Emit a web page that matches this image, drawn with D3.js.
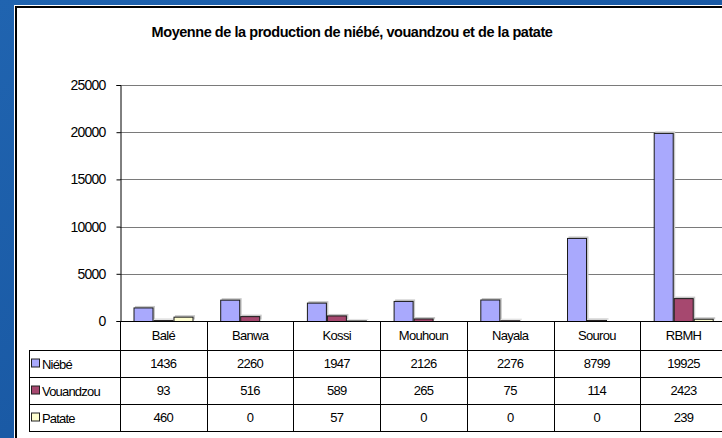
<!DOCTYPE html>
<html>
<head>
<meta charset="utf-8">
<script src="https://cdn.jsdelivr.net/npm/d3@7"></script>
<style>
	body { margin: 0; background: #1b5aa5; }
	svg { display: block; }
	text { font-family: 'Liberation Sans', Arial, sans-serif; fill: #000; }
</style>
</head>
<body>
<script>
// data
const categories = ['Balé', 'Banwa', 'Kossi', 'Mouhoun', 'Nayala', 'Sourou', 'RBMH']
const series = ['Niébé', 'Vouandzou', 'Patate']
const niebe = [1436, 2260, 1947, 2126, 2276, 8799, 19925]
const vouandzou = [93, 516, 589, 265, 75, 114, 2423]
const patate = [460, 0, 57, 0, 0, 0, 239]
const yTicks = [0, 5000, 10000, 15000, 20000, 25000]
const title = 'Moyenne de la production de niébé, vouandzou et de la patate'

const colors = { 'Niébé': '#a9a9fd', 'Vouandzou': '#a6486f', 'Patate': '#fdfdcf' }
const values = { 'Niébé': niebe, 'Vouandzou': vouandzou, 'Patate': patate }

const W = 722, H = 438
const colW = 86.7
const plotLeft = 120, plotTop = 85, zero = 321
const rows = [350, 377, 404, 431]
const tableLeft = 29

const root = d3.select('body').append('svg')
	.attr('width', W).attr('height', H)

// blue backdrop
const defs = root.append('defs')
const grad = defs.append('linearGradient').attr('id', 'bg').attr('x1', 0).attr('y1', 0).attr('x2', 1).attr('y2', 1)
grad.append('stop').attr('offset', 0).attr('stop-color', '#2064b0')
grad.append('stop').attr('offset', 1).attr('stop-color', '#14509a')
root.append('rect').attr('width', W).attr('height', H).attr('fill', 'url(#bg)')

// white panel with black frame
root.append('rect').attr('x', 14).attr('y', 5).attr('width', W).attr('height', H).attr('fill', '#fff')
root.append('path').attr('d', `M16,${H}V7H${W}`).attr('fill', 'none').attr('stroke', '#000').attr('stroke-width', 2)

root.append('text')
	.attr('x', 352).attr('y', 37)
	.attr('text-anchor', 'middle')
	.style('font-size', '14.5px').style('font-weight', 'bold').style('letter-spacing', '-0.45px')
	.text(title)

const x = d3.scaleBand().domain(categories).range([plotLeft, plotLeft + colW * categories.length])
const x1 = d3.scaleBand().domain(series).range([13.5, 73.5])
const y = d3.scaleLinear().domain([0, 25000]).range([zero, plotTop])

// gridlines
root.append('g').selectAll('line').data(yTicks.filter(d => d > 0)).join('line')
	.attr('x1', plotLeft).attr('x2', W)
	.attr('y1', d => Math.round(y(d)) + .5).attr('y2', d => Math.round(y(d)) + .5)
	.attr('stroke', '#7a7a7a')

// y axis
const yAxis = root.append('g')
	.attr('transform', `translate(${plotLeft + .5},0)`)
	.call(d3.axisLeft(y).tickValues(yTicks).tickSize(4).tickPadding(11).tickFormat(d3.format('d')))
yAxis.select('.domain').attr('stroke', '#000')
yAxis.selectAll('.tick line').attr('stroke', '#000')
yAxis.selectAll('text').style('font-size', '14px').style('letter-spacing', '-0.8px').style('font-family', "'Liberation Sans', Arial, sans-serif")

// bars
const groups = root.append('g').selectAll('g').data(categories).join('g')
	.attr('transform', d => `translate(${x(d)},0)`)
groups.selectAll('rect.shadow')
	.data((c, i) => series.map(s => ({ s, v: values[s][i] })).filter(d => d.v > 0))
	.join('rect').attr('class', 'shadow')
	.attr('x', d => x1(d.s) + 1.5).attr('width', x1.bandwidth())
	.attr('y', d => y(d.v) - 1.5).attr('height', d => zero - y(d.v))
	.attr('fill', '#c8c8c8')
groups.selectAll('rect.bar')
	.data((c, i) => series.map(s => ({ s, v: values[s][i] })).filter(d => d.v > 0))
	.join('rect').attr('class', 'bar')
	.attr('x', d => x1(d.s) + .5).attr('width', x1.bandwidth() - 1)
	.attr('y', d => y(d.v) + .5).attr('height', d => Math.max(0, zero - y(d.v)))
	.attr('fill', d => colors[d.s])
	.attr('stroke', '#1a1a1a').attr('stroke-width', 1)

// x axis line
root.append('line').attr('x1', plotLeft).attr('x2', W).attr('y1', zero + .5).attr('y2', zero + .5).attr('stroke', '#000')

// data table
const table = root.append('g')
rows.forEach(r => table.append('line')
	.attr('x1', tableLeft).attr('x2', W).attr('y1', r + .5).attr('y2', r + .5).attr('stroke', '#000'))
table.append('line').attr('x1', tableLeft + .5).attr('x2', tableLeft + .5).attr('y1', rows[0]).attr('y2', rows[3] + 1).attr('stroke', '#000')
table.selectAll('line.col').data(categories).join('line').attr('class', 'col')
	.attr('x1', d => Math.round(x(d)) + .5).attr('x2', d => Math.round(x(d)) + .5)
	.attr('y1', zero).attr('y2', rows[3] + 1).attr('stroke', '#000')

const txt = sel => sel.style('font-size', '13px').style('letter-spacing', '-0.7px').attr('text-anchor', 'middle')
table.selectAll('text.cat').data(categories).join('text').attr('class', 'cat')
	.attr('x', d => x(d) + colW / 2).attr('y', 340)
	.call(txt).text(d => d)

series.forEach((s, j) => {
	const cy = (rows[j] + rows[j + 1]) / 2
	table.append('rect')
		.attr('x', 31.5).attr('y', cy - 4.5).attr('width', 8).attr('height', 8)
		.attr('fill', colors[s]).attr('stroke', '#222')
	table.append('text')
		.attr('x', 42).attr('y', cy + 5)
		.style('font-size', '13px').style('letter-spacing', '-0.8px')
		.text(s)
	table.selectAll(`text.v${j}`).data(values[s]).join('text').attr('class', `v${j}`)
		.attr('x', (d, i) => x(categories[i]) + colW / 2).attr('y', cy + 4.5)
		.call(txt).text(d => d)
})
</script>
</body>
</html>
